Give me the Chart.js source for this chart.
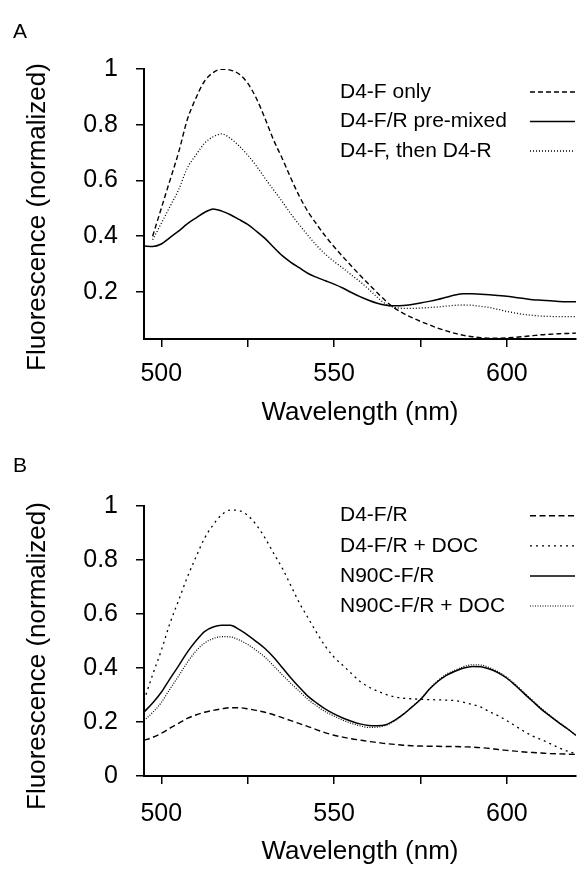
<!DOCTYPE html>
<html><head><meta charset="utf-8">
<script src="https://cdn.jsdelivr.net/npm/chart.js@4.4.1/dist/chart.umd.min.js"></script>
<style>
html,body{margin:0;padding:0;background:#fff;}
#wrap{position:relative;width:579px;height:869px;overflow:hidden;font-family:"Liberation Sans",Arial,Helvetica,sans-serif;}
.panel{position:absolute;left:0;width:579px;}
#pA{top:0;height:434px;}
#pB{top:434px;height:435px;}
.lbl{position:absolute;left:13px;font-size:21px;line-height:1;color:#000;}
</style></head><body>
<div id="wrap">
<div class="panel" id="pA"><canvas id="cA"></canvas></div>
<div class="panel" id="pB"><canvas id="cB"></canvas></div>
<div class="lbl" style="top:20px">A</div>
<div class="lbl" style="top:454px">B</div>
</div>
<script>
const wavelengths = [495,497.5,500,502.5,505,507.5,510,512.5,515,517.5,520,522.5,525,527.5,530,532.5,535,537.5,540,542.5,545,547.5,550,552.5,555,557.5,560,562.5,565,567.5,570,572.5,575,577.5,580,582.5,585,587.5,590,592.5,595,597.5,600,602.5,605,607.5,610,612.5,615,617.5,620];

// Panel A
const aD4Fonly = [null,0.40,0.50,0.60,0.70,0.817,0.895,0.956,0.987,0.999,0.996,0.982,0.949,0.895,0.823,0.745,0.679,0.608,0.542,0.487,0.442,0.400,0.362,0.327,0.293,0.260,0.228,0.197,0.167,0.142,0.123,0.108,0.094,0.082,0.070,0.060,0.051,0.044,0.039,0.036,0.034,0.034,0.035,0.037,0.040,0.043,0.046,0.048,0.050,0.051,0.052];
const aPremixed = [0.365,0.363,0.372,0.395,0.418,0.444,0.465,0.485,0.498,0.490,0.477,0.460,0.442,0.418,0.392,0.360,0.330,0.306,0.286,0.266,0.252,0.240,0.228,0.214,0.198,0.183,0.170,0.159,0.152,0.150,0.151,0.155,0.160,0.166,0.173,0.181,0.189,0.193,0.193,0.192,0.190,0.187,0.184,0.180,0.176,0.172,0.170,0.168,0.166,0.165,0.165];
const aThenR = [null,0.387,0.446,0.506,0.566,0.644,0.691,0.733,0.757,0.767,0.751,0.724,0.691,0.652,0.608,0.566,0.524,0.480,0.440,0.402,0.366,0.335,0.309,0.286,0.261,0.237,0.210,0.181,0.156,0.145,0.141,0.141,0.142,0.144,0.146,0.149,0.152,0.153,0.152,0.148,0.144,0.137,0.130,0.124,0.119,0.116,0.113,0.112,0.111,0.111,0.111];

// Panel B
const bD4FR = [0.132,0.143,0.158,0.177,0.195,0.213,0.226,0.236,0.243,0.249,0.253,0.253,0.249,0.243,0.236,0.227,0.216,0.205,0.194,0.183,0.171,0.160,0.151,0.144,0.138,0.133,0.128,0.124,0.120,0.117,0.114,0.112,0.111,0.110,0.110,0.109,0.109,0.108,0.107,0.105,0.102,0.098,0.095,0.092,0.089,0.087,0.085,0.083,0.082,0.081,0.080];
const bD4FRDoc = [0.280,0.375,0.465,0.565,0.650,0.735,0.810,0.880,0.930,0.968,0.985,0.983,0.965,0.930,0.882,0.825,0.770,0.705,0.640,0.585,0.530,0.480,0.440,0.410,0.380,0.350,0.330,0.315,0.302,0.293,0.288,0.286,0.284,0.283,0.282,0.281,0.279,0.273,0.265,0.255,0.238,0.223,0.205,0.185,0.165,0.148,0.135,0.120,0.105,0.092,0.082];
const bN90C = [0.237,0.270,0.310,0.360,0.408,0.458,0.500,0.535,0.552,0.558,0.558,0.543,0.522,0.498,0.472,0.440,0.402,0.363,0.328,0.295,0.270,0.248,0.230,0.215,0.203,0.193,0.187,0.186,0.190,0.206,0.228,0.255,0.283,0.320,0.350,0.373,0.388,0.400,0.406,0.405,0.396,0.382,0.362,0.335,0.305,0.276,0.247,0.222,0.198,0.175,0.150];
const bN90CDoc = [0.206,0.235,0.272,0.322,0.370,0.420,0.462,0.492,0.509,0.516,0.515,0.504,0.487,0.465,0.440,0.408,0.375,0.343,0.313,0.283,0.259,0.238,0.222,0.207,0.195,0.186,0.180,0.181,0.188,0.204,0.228,0.256,0.285,0.322,0.353,0.377,0.392,0.405,0.412,0.411,0.401,0.386,0.366,0.339,0.309,0.279,0.250,0.224,0.199,0.176,0.151];

const xTickValues = [500,525,550,575,600];
const xTickLabels = ['500','','550','','600'];
const aYTickValues = [0.2,0.4,0.6,0.8,1];
const aYTickLabels = ['0.2','0.4','0.6','0.8','1'];
const bYTickValues = [0,0.2,0.4,0.6,0.8,1];
const bYTickLabels = ['0','0.2','0.4','0.6','0.8','1'];

const FONT = '"Liberation Sans", Arial, Helvetica, sans-serif';

function pts(arr){ return wavelengths.map((w,i)=>({x:w,y:arr[i]})); }

const sidePlugin = {
  id: 'side',
  afterDraw(chart, args, o) {
    const ctx = chart.ctx;
    ctx.save();
    ctx.font = '21px ' + FONT;
    ctx.fillStyle = '#000';
    ctx.textBaseline = 'middle';
    ctx.textAlign = 'left';
    chart.data.datasets.forEach((ds, i) => {
      const y = o.y0 + i * o.dy;
      ctx.setLineDash([]);
      ctx.fillText(ds.label, o.textX, y);
      ctx.beginPath();
      ctx.setLineDash(ds.borderDash || []);
      ctx.lineWidth = ds.borderWidth;
      ctx.strokeStyle = '#000';
      ctx.moveTo(o.x1, y); ctx.lineTo(o.x2, y); ctx.stroke();
    });
    ctx.setLineDash([]);
    ctx.translate(o.titleX, o.titleY);
    ctx.rotate(-Math.PI/2);
    ctx.font = '26px ' + FONT;
    ctx.textAlign = 'center';
    ctx.textBaseline = 'middle';
    ctx.fillText(o.yTitle, 0, 0);
    ctx.restore();
  }
};

function ds(label, arr, dash, width){
  return {label, data: pts(arr), borderColor:'#000', borderWidth: width, borderDash: dash,
    pointRadius:0, fill:false, cubicInterpolationMode:'monotone', spanGaps:true, borderCapStyle:'butt'};
}

function makeChart(id, datasets, cfg){
  return new Chart(document.getElementById(id), {
    type:'line',
    data:{datasets},
    plugins:[sidePlugin],
    options:{
      responsive:true, maintainAspectRatio:false, animation:false,
      layout:{padding:{top:cfg.padTop,right:3,left:0,bottom:0}},
      plugins:{legend:{display:false},tooltip:{enabled:false},
        side:{y0:cfg.legY0,dy:cfg.legDy,textX:340,x1:530,x2:575,titleX:38,titleY:cfg.titleY,yTitle:'Fluorescence (normalized)'}},
      scales:{
        x:{type:'linear',min:495,max:620,
          afterBuildTicks:(s)=>{s.ticks = xTickValues.map(v=>({value:v}));},
          afterFit:(s)=>{s.height = cfg.xH;},
          ticks:{autoSkip:false,maxRotation:0,padding:cfg.xPad,color:'#000',font:{family:FONT,size:25},callback:(v,i)=>xTickLabels[i]},
          grid:{drawOnChartArea:false,drawTicks:true,tickLength:8,color:'#000',lineWidth:1.5},
          border:{display:true,color:'#000',width:2},
          title:{display:true,text:'Wavelength (nm)',color:'#000',font:{family:FONT,size:26},padding:{top:0,bottom:cfg.xTitlePad}}
        },
        y:{type:'linear',min:cfg.yMin,max:1,
          afterBuildTicks:(s)=>{s.ticks = cfg.yVals.map(v=>({value:v}));},
          afterFit:(s)=>{s.width = 144;},
          ticks:{autoSkip:false,padding:18,color:'#000',font:{family:FONT,size:25},callback:(v,i)=>cfg.yLabels[i]},
          grid:{drawOnChartArea:false,drawTicks:true,tickLength:8,color:'#000',lineWidth:1.5},
          border:{display:true,color:'#000',width:2}
        }
      }
    }
  });
}

makeChart('cA', [
  ds('D4-F only', aD4Fonly, [5,3], 1.4),
  ds('D4-F/R pre-mixed', aPremixed, [], 1.5),
  ds('D4-F, then D4-R', aThenR, [1,2], 1.3)
], {padTop:69, xH:95, xPad:12, xTitlePad:6, yMin:0.031, yVals:aYTickValues, yLabels:aYTickLabels, legY0:92, legDy:29.5, titleY:217});

makeChart('cB', [
  ds('D4-F/R', bD4FR, [6,3.5], 1.4),
  ds('D4-F/R + DOC', bD4FRDoc, [2,4], 1.3),
  ds('N90C-F/R', bN90C, [], 1.5),
  ds('N90C-F/R + DOC', bN90CDoc, [1,1.5], 1.2)
], {padTop:72, xH:93, xPad:15, xTitlePad:2, yMin:0, yVals:bYTickValues, yLabels:bYTickLabels, legY0:81.7, legDy:30.1, titleY:222});
</script>
</body></html>
